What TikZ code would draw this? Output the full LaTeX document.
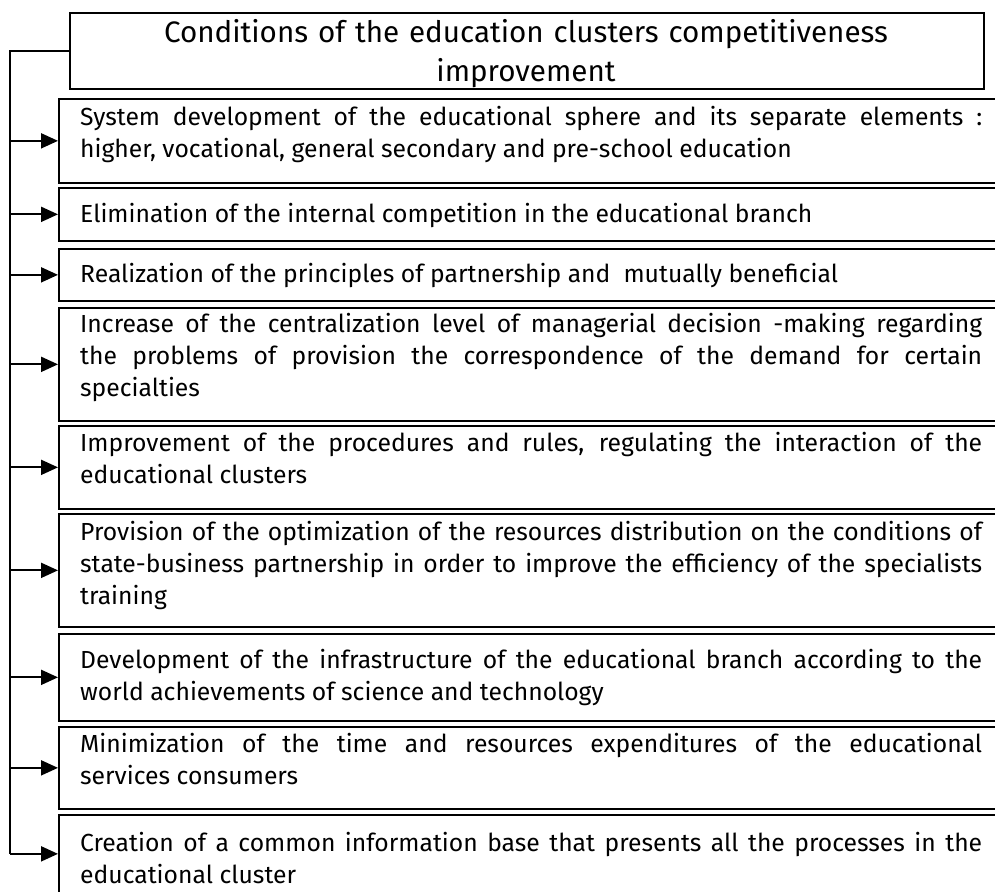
\documentclass[tikz,border=0pt]{standalone}
\usepackage{fontspec}
\setmainfont{Fira Sans}
\usetikzlibrary{arrows.meta}
\hyphenpenalty=10000
\exhyphenpenalty=10000
\tolerance=9999
\begin{document}
\begin{tikzpicture}[x=1pt,y=-1pt,
  frame/.style={draw, rectangle, line width=1.7pt, inner sep=0pt, anchor=north west},
  condtext/.style={anchor=base west, inner sep=0pt, text width=902pt, align=justify,
    font=\fontsize{24.7}{32}\selectfont},
  link/.style={line width=2pt},
  tip/.style={link, -{Triangle[length=17pt,width=15pt]}}]

\path[use as bounding box] (0,0) rectangle (995,891);
\clip (0,0) rectangle (995,891);

\node[frame, minimum width=914pt, minimum height=76pt] (title) at (69,12) {};
\node[anchor=base, inner sep=0pt, text width=914pt, align=center,
  font=\fontsize{29.6}{39}\selectfont] (head) at (526,43)
  {Conditions of the education clusters competitiveness\\improvement};

\coordinate (trunk) at (10,0);

\foreach \n/\t/\b/\d/\s in {
  1/98/182/27/{System development of the educational sphere and its separate elements~:\linebreak higher, vocational, general secondary and pre-school education},
  2/187/240/35/{Elimination of the internal competition in the educational branch},
  3/248/300/34/{Realization of the principles of partnership and~ mutually beneficial},
  4/307/420/25/{Increase of the centralization level of managerial decision -making regarding\linebreak the problems of provision the correspondence of the demand for certain\linebreak specialties},
  5/425/508/26/{Improvement of the procedures and rules, regulating the interaction of the\linebreak educational clusters},
  6/513/626/27/{Provision of the optimization of the resources distribution on the conditions of\linebreak state-business partnership in order to improve the efficiency of the specialists\linebreak training},
  7/633/720/35/{Development of the infrastructure of the educational branch according to the\linebreak world achievements of science and technology},
  8/726/808/26/{Minimization of the time and resources expenditures of the educational\linebreak services consumers},
  9/814/892/37/{Creation of a common information base that presents all the processes in the\linebreak educational cluster}} {
  \pgfmathsetmacro{\h}{\b-\t}
  \node[frame, minimum width=960pt, minimum height=\h pt] (c\n) at (58,\t) {};
  \node[condtext] (t\n) at ([xshift=22pt, yshift=-\d pt]c\n.north west) {\s};
  \draw[tip] (trunk |- c\n.west) -- (c\n.west);
}

\draw[link] (title.west) -| (trunk |- c9.west);

\end{tikzpicture}
\end{document}
